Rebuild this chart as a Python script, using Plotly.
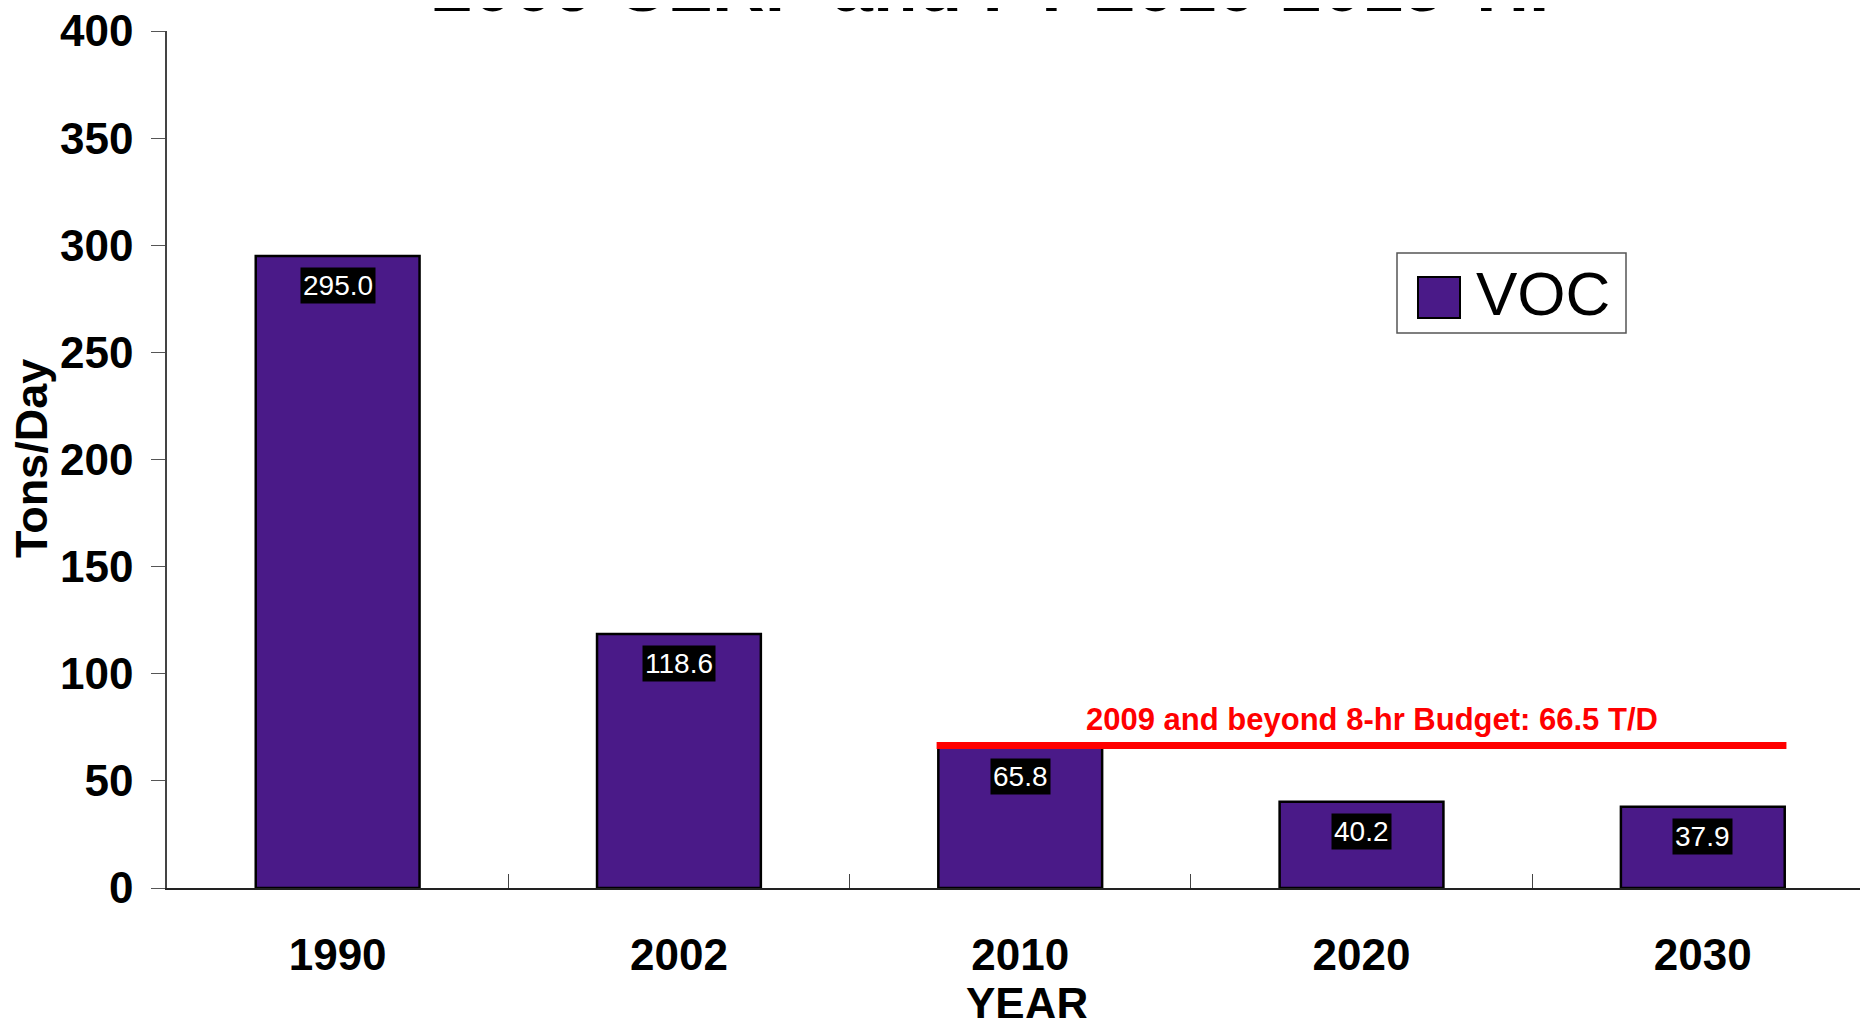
import plotly.graph_objects as go

# ---- data ----
years = ["1990", "2002", "2010", "2020", "2030"]
voc_values = [295.0, 118.6, 65.8, 40.2, 37.9]
voc_labels = ["295.0", "118.6", "65.8", "40.2", "37.9"]
budget_value = 66.5
budget_label = "2009 and beyond 8-hr Budget: 66.5 T/D"
y_ticks = [0, 50, 100, 150, 200, 250, 300, 350, 400]
title_text = "2009 CLRP and FY 2010-2015 TIP"
series_name = "VOC"
x_title = "YEAR"
y_title = "Tons/Day"

FONT = "Liberation Sans, Arial, sans-serif"
BAR_COLOR = "#4a1a88"

OFF = 8  # page body margin
W, H = 1868 - OFF, 1018 - OFF
ML, MR, MT, MB = 167 - OFF, 0, 31 - OFF, 130
PW = W - ML - MR
PH = H - MT - MB

def px_x(x):  # page pixel -> paper fraction
    return (x - OFF - ML) / PW

def px_y(y):
    return (H - MB - (y - OFF)) / PH

fig = go.Figure()
fig.add_trace(go.Bar(
    x=years, y=voc_values, name=series_name,
    marker=dict(color=BAR_COLOR, line=dict(color="black", width=2.5)),
    showlegend=False,
))

# value labels (white text on black box, just below the bar top)
for i, (v, lab) in enumerate(zip(voc_values, voc_labels)):
    fig.add_annotation(
        x=i, y=v, xref="x", yref="y", text=lab, showarrow=False,
        yanchor="top", yshift=-11,
        font=dict(family=FONT, size=28, color="white"),
        bgcolor="black", borderpad=2,
    )

# budget line spanning from the 2010 bar to the 2030 bar
half = 0.245
x_start = years.index("2010") - half
x_end = years.index("2030") + half
fig.add_shape(type="line", xref="x", yref="y",
              x0=x_start, x1=x_end, y0=budget_value, y1=budget_value,
              line=dict(color="#ff0000", width=7))
fig.add_annotation(
    x=(x_start + x_end) / 2 + 0.03,
    y=budget_value, xref="x", yref="y", text="<b>" + budget_label + "</b>",
    showarrow=False, yanchor="bottom", yshift=7,
    font=dict(family=FONT, size=31, color="#ff0000"),
)

# title (top line cut off by the page edge as in the original)
fig.add_annotation(
    x=px_x(1005), y=px_y(28), xref="paper", yref="paper",
    text="<b>" + title_text + "</b>", showarrow=False,
    xanchor="center", yanchor="bottom",
    font=dict(family=FONT, size=73, color="black"),
)

# axis titles
fig.add_annotation(
    x=px_x(1027), y=px_y(1003), xref="paper", yref="paper",
    text="<b>" + x_title + "</b>", showarrow=False,
    xanchor="center", yanchor="middle",
    font=dict(family=FONT, size=44, color="black"),
)
fig.add_annotation(
    x=px_x(31), y=px_y(459), xref="paper", yref="paper",
    text="<b>" + y_title + "</b>", showarrow=False, textangle=-90,
    xanchor="center", yanchor="middle",
    font=dict(family=FONT, size=45, color="black"),
)

# legend box
fig.add_shape(type="rect", xref="paper", yref="paper",
              x0=px_x(1397), x1=px_x(1626), y0=px_y(333), y1=px_y(253),
              line=dict(color="#555555", width=1.5), fillcolor="white")
fig.add_shape(type="rect", xref="paper", yref="paper",
              x0=px_x(1418), x1=px_x(1460), y0=px_y(318), y1=px_y(277),
              line=dict(color="black", width=2), fillcolor=BAR_COLOR)
fig.add_annotation(
    x=px_x(1474), y=px_y(293), xref="paper", yref="paper",
    text=series_name, showarrow=False, xanchor="left", yanchor="middle",
    font=dict(family=FONT, size=62, color="black"),
)

fig.update_layout(
    width=W, height=H,
    margin=dict(l=ML, r=MR, t=MT, b=MB, autoexpand=False),
    paper_bgcolor="white", plot_bgcolor="white",
    bargap=0.52,
    font=dict(family=FONT, color="black"),
    showlegend=False,
)
fig.update_xaxes(
    type="category", range=[-0.5, len(years) - 0.516],
    showline=True, linecolor="#222222", linewidth=1.5,
    ticks="inside", tickson="boundaries", ticklen=14, tickcolor="#444444",
    tickfont=dict(family=FONT, size=44, color="black", weight="bold"),
    tickangle=0,
    ticklabelstandoff=27,
    showgrid=False, zeroline=False,
    automargin=False,
)
fig.update_yaxes(
    range=[0, 400], tickvals=y_ticks,
    showline=True, linecolor="#444444", linewidth=1.5,
    ticks="outside", ticklen=14, tickcolor="#555555",
    tickfont=dict(family=FONT, size=44, color="black", weight="bold"),
    ticklabelstandoff=9, ticklabeloverflow="allow",
    showgrid=False, zeroline=False,
    automargin=False,
)

fig.write_html("out.html")
